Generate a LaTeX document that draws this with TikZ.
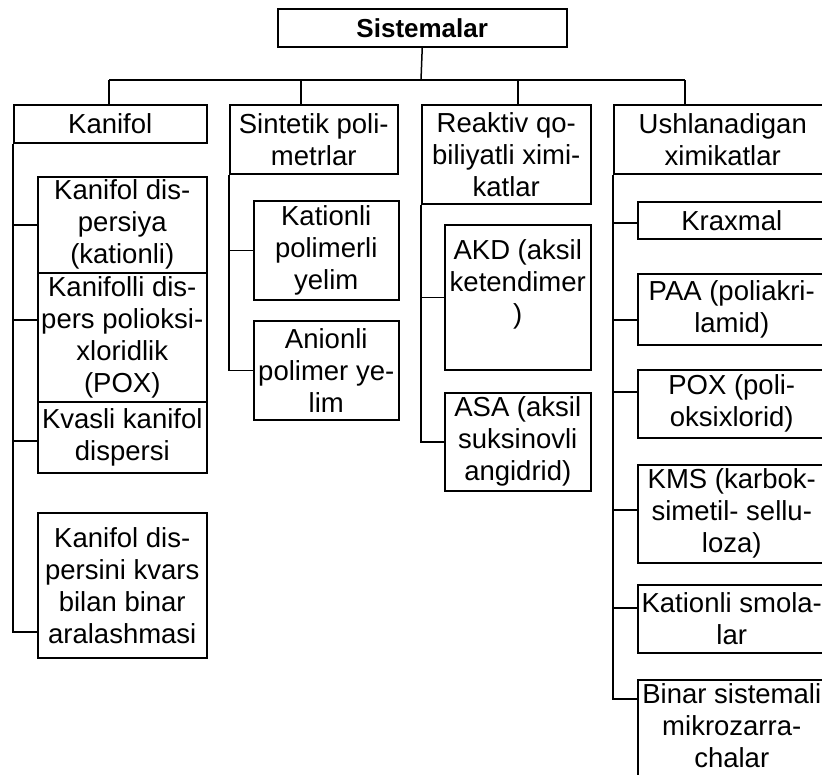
\documentclass[tikz,border=0pt]{standalone}
\usepackage{fontspec}
\setmainfont{Liberation Sans}
\newcommand\mybox[6]{\node[box,minimum width=#4pt,minimum height=#5pt] (#1) at (#2,#3) {#6};}
\begin{document}
\begin{tikzpicture}[x=1pt,y=-1pt,line width=1.5pt,
  box/.style={draw,align=center,inner sep=0pt,anchor=north west,font=\fontsize{27.5}{32}\selectfont},
  titlebox/.style={box,font=\fontsize{26}{30}\selectfont\bfseries}]
\useasboundingbox (0,0) rectangle (822,774);
\clip (0,0) rectangle (822,774);
% top
\node[titlebox,minimum width=289pt,minimum height=38pt] (top) at (277,8) {Sistemalar};
% level 1
\mybox{kan}{13}{104}{193}{38}{Kanifol}
\mybox{sin}{229}{104}{168}{69}{Sintetik poli-\\metrlar}
\mybox{rea}{421}{104}{169}{99}{Reaktiv qo-\\biliyatli ximi-\\katlar}
\mybox{ush}{613}{104}{218}{69}{Ushlanadigan\\ximikatlar}
% Kanifol children
\mybox{k1}{37}{176}{169}{96}{Kanifol dis-\\persiya\\(kationli)}
\mybox{k2}{37}{272}{169}{129}{Kanifolli dis-\\pers polioksi-\\xloridlik\\(POX)}
\mybox{k3}{37}{401}{169}{71}{Kvasli kanifol\\dispersi}
\mybox{k4}{37}{512}{169}{145}{Kanifol dis-\\persini kvars\\bilan binar\\aralashmasi}
% Sintetik children
\mybox{s1}{253}{200}{145}{99}{Kationli\\polimerli\\yelim}
\mybox{s2}{253}{320}{145}{99}{Anionli\\polimer ye-\\lim}
% Reaktiv children
\mybox{r1}{444}{224}{146}{145}{AKD (aksil\\ketendimer\\)\\\mbox{}}
\mybox{r2}{444}{392}{146}{98}{ASA (aksil\\suksinovli\\angidrid)}
% Ushlanadigan children
\mybox{u1}{637}{201}{188}{37}{Kraxmal}
\mybox{u2}{637}{273}{188}{71}{PAA (poliakri-\\lamid)}
\mybox{u3}{637}{369}{188}{68}{POX (poli-\\oksixlorid)}
\mybox{u4}{637}{464}{188}{98}{KMS (karbok-\\simetil- sellu-\\loza)}
\mybox{u5}{637}{584}{188}{68}{Kationli smola-\\lar}
\mybox{u6}{637}{679}{188}{124}{Binar sistemali\\mikrozarra-\\chalar\\\mbox{}}
% top tree
\coordinate (bus) at (421,80);
\coordinate (busL) at (109,80);
\coordinate (busR) at (685,80);
\draw (top.south) -- (bus);
\draw (busL) -- (busR);
\draw (busL) -- (kan.north -| busL);
\draw (bus -| 301,0) -- (sin.north -| 301,0);
\draw (bus -| 518,0) -- (rea.north -| 518,0);
\draw (busR) -- (ush.north -| busR);
% Kanifol trunk
\draw (kan.south west) |- (k4.west |- 0,632);
\draw (kan.south west |- k1.west) -- (k1.west);
\draw (kan.south west |- 0,320) -- (k2.west |- 0,320);
\draw (kan.south west |- 0,441) -- (k3.west |- 0,441);
% Sintetik trunk
\draw (sin.south west) |- (s2.west);
\draw (sin.south west |- s1.west) -- (s1.west);
% Reaktiv trunk
\draw (rea.south west) |- (r2.west);
\draw (rea.south west |- r1.west) -- (r1.west);
% Ushlanadigan trunk
\draw (ush.south west) |- (u6.west |- 0,699);
\draw (ush.south west |- 0,223) -- (u1.west |- 0,223);
\draw (ush.south west |- 0,320) -- (u2.west |- 0,320);
\draw (ush.south west |- 0,392) -- (u3.west |- 0,392);
\draw (ush.south west |- 0,510) -- (u4.west |- 0,510);
\draw (ush.south west |- 0,608) -- (u5.west |- 0,608);
\end{tikzpicture}
\end{document}
